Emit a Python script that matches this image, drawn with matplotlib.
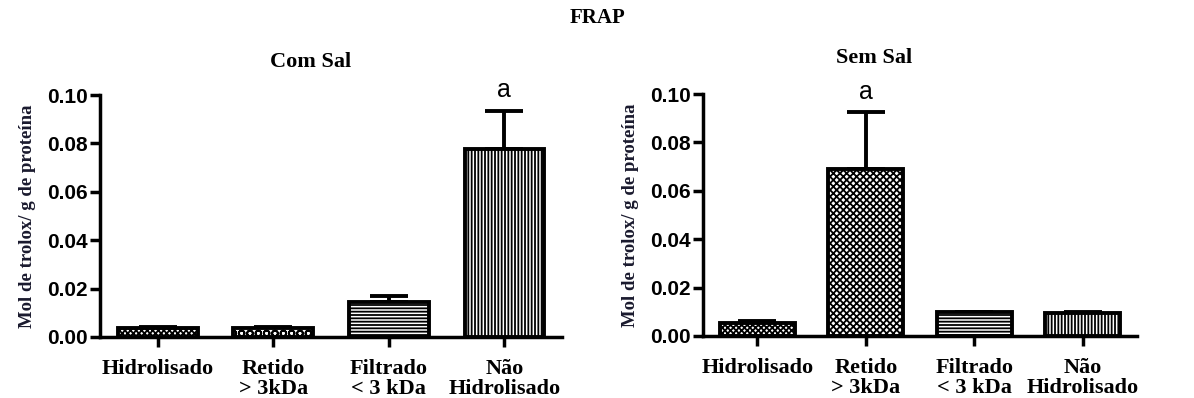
import matplotlib.pyplot as plt
import numpy as np

# Dados
categorias = ['Hidrolisado', 'Retido\n> 3kDa', 'Filtrado\n< 3 kDa', 'Não\nHidrolisado']
com_sal = [0.0038, 0.0038, 0.0145, 0.0778]
com_sal_erro = [0.0004, 0.0005, 0.0025, 0.0157]
sem_sal = [0.0054, 0.0690, 0.0098, 0.0094]
sem_sal_erro = [0.0006, 0.0235, 0.0003, 0.0006]
hachuras_com = ['xxxxxx', 'OO', '-----', '|||||']
hachuras_sem = ['xxxxxx', 'xxxxx', '-----', '|||||']
letras_com = ['', '', '', 'a']
letras_sem = ['', 'a', '', '']

plt.rcParams['hatch.linewidth'] = 1.3

fig = plt.figure(figsize=(11.94, 3.98), dpi=100)
ax1 = fig.add_axes([0.0838, 0.1533, 0.387, 0.608])
ax2 = fig.add_axes([0.5888, 0.1558, 0.3635, 0.608])

serif = 'Liberation Serif'
sans = 'Liberation Sans'


def painel(ax, valores, erros, hachuras, letras, titulo, y_titulo):
    x = np.arange(len(categorias))
    ax.bar(x, valores, width=0.69, color='white', edgecolor='black',
           linewidth=2.8, hatch=hachuras, zorder=3)
    ax.errorbar(x, valores, yerr=[np.zeros(len(x)), erros], fmt='none',
                ecolor='black', elinewidth=2.8, capsize=13.5, capthick=2.8, zorder=2)
    for xi, v, e, l in zip(x, valores, erros, letras):
        if l:
            ax.text(xi, v + e + 0.0035, l, ha='center', va='bottom',
                    fontsize=18, family=sans)
    ax.set_xlim(-0.5, 3.5)
    ax.set_ylim(0, 0.10)
    ax.set_yticks(np.arange(0, 0.101, 0.02))
    ax.set_yticklabels(['%.2f' % t for t in np.arange(0, 0.101, 0.02)],
                       fontsize=15, fontweight='bold', family=sans)
    ax.set_xticks(x)
    ax.set_xticklabels(categorias, fontsize=16, fontweight='bold', family=serif,
                       linespacing=1.0)
    for s in ['top', 'right']:
        ax.spines[s].set_visible(False)
    for s in ['left', 'bottom']:
        ax.spines[s].set_linewidth(2.5)
    ax.tick_params(axis='both', width=2.5, length=7, direction='out')
    ax.tick_params(axis='x', pad=9)
    ax.tick_params(axis='y', pad=2)
    ax.set_ylabel('Mol de trolox/ g de proteína', fontsize=13.5, family=serif,
                  fontweight='bold', color='#1a1a2e', labelpad=8)
    fig.text(ax.get_position().x0 + ax.get_position().width * y_titulo[0],
             y_titulo[1], titulo, ha='center', va='center', fontsize=16,
             fontweight='bold', family=serif)


painel(ax1, com_sal, com_sal_erro, hachuras_com, letras_com, 'Com Sal', (0.455, 0.845))
painel(ax2, sem_sal, sem_sal_erro, hachuras_sem, letras_sem, 'Sem Sal', (0.395, 0.855))

fig.text(0.5, 0.955, 'FRAP', ha='center', va='center', fontsize=15,
         fontweight='bold', family=serif)

fig.savefig('out.png', dpi=100)
